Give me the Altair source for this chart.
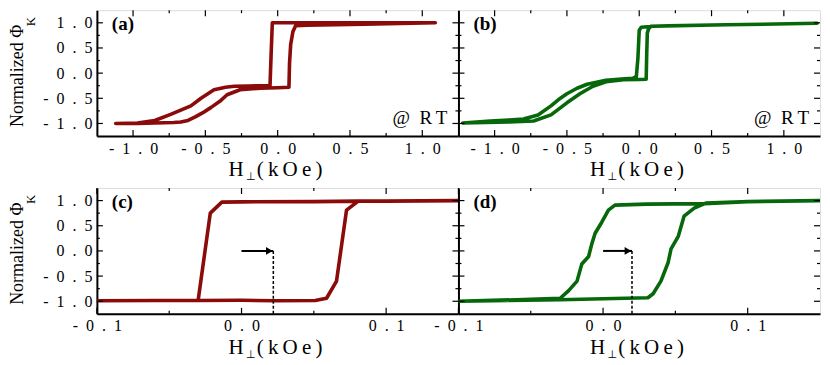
import altair as alt
import pandas as pd

# ---------------- data ----------------
# Panel (a): RT loop, red
a_desc_H = [1.09, 0.60, 0.15, 0.00, -0.037, -0.045, -0.053, -0.10, -0.20, -0.30, -0.36, -0.44, -0.53, -0.60, -0.74, -0.85, -0.97, -1.12]
a_desc_phi = [1.00, 1.00, 1.00, 1.00, 1.00, 0.40, -0.25, -0.25, -0.255, -0.26, -0.28, -0.33, -0.50, -0.65, -0.82, -0.94, -0.99, -1.00]
a_asc_H = [-1.12, -0.97, -0.85, -0.72, -0.67, -0.62, -0.57, -0.52, -0.46, -0.40, -0.35, -0.26, -0.12, 0.00, 0.078, 0.082, 0.09, 0.105, 0.124, 0.20, 0.60, 1.09]
a_asc_phi = [-1.00, -1.00, -0.99, -0.98, -0.97, -0.94, -0.87, -0.79, -0.68, -0.56, -0.43, -0.33, -0.30, -0.29, -0.28, 0.20, 0.57, 0.82, 0.94, 0.95, 0.97, 1.00]

# Panel (b): RT loop, green
b_desc_H = [1.23, 0.60, 0.10, 0.014, 0.000, -0.009, -0.02, -0.043, -0.10, -0.23, -0.36, -0.43, -0.50, -0.56, -0.61, -0.70, -0.80, -0.90, -1.03, -1.22]
b_desc_phi = [0.99, 0.96, 0.93, 0.91, 0.85, 0.30, -0.07, -0.10, -0.11, -0.14, -0.22, -0.30, -0.41, -0.53, -0.65, -0.83, -0.91, -0.93, -0.95, -0.99]
b_asc_H = [-1.22, -0.90, -0.73, -0.61, -0.50, -0.41, -0.32, -0.23, -0.11, 0.00, 0.048, 0.052, 0.056, 0.065, 0.08, 0.20, 0.60, 1.23]
b_asc_phi = [-0.99, -0.97, -0.95, -0.83, -0.59, -0.41, -0.26, -0.17, -0.13, -0.125, -0.12, 0.40, 0.80, 0.88, 0.93, 0.94, 0.96, 0.99]

# Panel (c): minor loop, red
c_desc_H = [0.15, 0.10, 0.0807, 0.05, 0.0, -0.0136, -0.0216, -0.030, -0.06, -0.10]
c_desc_phi = [1.00, 0.99, 0.99, 0.98, 0.975, 0.97, 0.75, -0.985, -0.985, -0.99]
c_asc_H = [-0.10, -0.06, -0.030, 0.0, 0.0236, 0.051, 0.0588, 0.0657, 0.0726, 0.0807, 0.10, 0.15]
c_asc_phi = [-0.99, -0.985, -0.985, -0.98, -0.99, -0.985, -0.94, -0.60, 0.81, 0.99, 0.99, 1.00]

# Panel (d): minor loop, green
d_desc_H = [0.15, 0.10, 0.070, 0.030, 0.0082, 0.0037, -0.0009, -0.0055, -0.0078, -0.010, -0.0147, -0.018, -0.0238, -0.0296, -0.06, -0.10]
d_desc_phi = [1.00, 0.98, 0.94, 0.93, 0.91, 0.81, 0.57, 0.35, 0.14, -0.11, -0.26, -0.60, -0.79, -0.94, -0.97, -1.00]
d_asc_H = [-0.10, -0.0296, 0.0, 0.031, 0.0346, 0.040, 0.045, 0.047, 0.052, 0.056, 0.063, 0.071, 0.10, 0.15]
d_asc_phi = [-1.00, -0.97, -0.95, -0.93, -0.85, -0.60, -0.23, 0.04, 0.29, 0.69, 0.85, 0.95, 0.98, 1.00]

# loop shift annotations (c), (d): arrow start, arrow end / dashed line position
c_shift = [0.0, 0.022]
d_shift = [0.0, 0.020]

# axes
wide_domain = [-1.25, 1.25]
narrow_domain = [-0.1, 0.15]
wide_labels = [-1.0, -0.5, 0.0, 0.5, 1.0]
narrow_labels = [-0.1, 0.0, 0.1]
wide_major = [-1.0, -0.5, 0.0, 0.5, 1.0]
wide_minor = [-0.75, -0.25, 0.25, 0.75]
narrow_major = [-0.1, 0.0, 0.1]
narrow_minor = [-0.05, 0.05]
y_labels = [-1.0, -0.5, 0.0, 0.5, 1.0]
y_major = [-1.0, -0.5, 0.0, 0.5, 1.0]
y_minor = [-0.75, -0.25, 0.25, 0.75]

RED = "#8b0a0a"
GREEN = "#07680b"
FONT = "Liberation Serif, Times New Roman, DejaVu Serif, serif"
W = 362
H = 126
MAJ = 6
MIN = 3
SP = "\u2002"
TH = "\u2009"
LABEL_EXPR = ("(datum.value < -1e-9 ? '-" + SP + "' : '') + "
              "join(split(format(abs(datum.value), '.1f'), ''), '" + SP + "')")


def one(text):
    return pd.DataFrame({"t": [text]})


def panel(dH, dphi, aH, aphi, color, xdom, xlab, xmaj, xmin, tag, show_y, rt, shift):
    hs = dH + aH
    ps = dphi + aphi
    curve = pd.DataFrame({"H": hs, "phi": ps, "i": list(range(len(hs)))})
    xs = alt.Scale(domain=xdom, nice=False, zero=False)
    ys = alt.Scale(domain=wide_domain, nice=False, zero=False)
    xaxis = alt.Axis(values=xlab, ticks=False, grid=False, title=None,
                     labelExpr=LABEL_EXPR, labelFont=FONT, labelFontSize=16,
                     labelColor="black", labelPadding=4, labelFlush=False,
                     labelOverlap=False, domainColor="black", domainWidth=2)
    yaxis = alt.Axis(values=y_labels, ticks=False, grid=False, title=None,
                     labels=show_y, labelExpr=LABEL_EXPR, labelFont=FONT,
                     labelFontSize=16, labelColor="black", labelPadding=5,
                     labelFlush=False, labelOverlap=False,
                     domainColor="black", domainWidth=2)

    def X(f):
        return alt.X(f, type="quantitative", scale=xs, axis=xaxis)

    def Y(f):
        return alt.Y(f, type="quantitative", scale=ys, axis=yaxis)

    layers = []
    layers.append(alt.Chart(curve).mark_line(color=color, strokeWidth=3.6, clip=True,
                                             strokeJoin="round", strokeCap="round")
                  .encode(x=X("H"), y=Y("phi"), order="i:Q"))

    # inward ticks on all four sides
    for vals, L in ((xmaj, MAJ), (xmin, MIN)):
        xt = pd.DataFrame({"v": vals})
        layers.append(alt.Chart(xt).mark_rule(color="black", strokeWidth=1.2)
                      .encode(x=X("v"), y=alt.value(H), y2=alt.value(H - L)))
        layers.append(alt.Chart(xt).mark_rule(color="black", strokeWidth=1.2)
                      .encode(x=X("v"), y=alt.value(0), y2=alt.value(L)))
    for vals, L in ((y_major, MAJ), (y_minor, MIN)):
        yt = pd.DataFrame({"v": vals})
        layers.append(alt.Chart(yt).mark_rule(color="black", strokeWidth=1.2)
                      .encode(y=Y("v"), x=alt.value(0), x2=alt.value(L)))
        layers.append(alt.Chart(yt).mark_rule(color="black", strokeWidth=1.2)
                      .encode(y=Y("v"), x=alt.value(W), x2=alt.value(W - L)))

    layers.append(alt.Chart(one(tag)).mark_text(font=FONT, fontSize=19, fontWeight="bold",
                                                align="left", baseline="middle", color="black")
                  .encode(x=alt.value(15), y=alt.value(14), text="t:N"))
    if rt:
        layers.append(alt.Chart(one("@" + SP + "R" + TH + "T")).mark_text(font=FONT, fontSize=19,
                                                                       align="right", baseline="middle",
                                                                       color="black")
                      .encode(x=alt.value(W - 11), y=alt.value(108), text="t:N"))
    if shift is not None:
        arr = pd.DataFrame({"x0": [shift[0]], "x1": [shift[1]], "y": [0.0], "yb": [wide_domain[0]]})
        layers.append(alt.Chart(arr).mark_rule(color="black", strokeWidth=2)
                      .encode(x=X("x0"), x2="x1", y=Y("y")))
        layers.append(alt.Chart(arr).mark_point(shape="triangle-right", filled=True, size=60,
                                                color="black", opacity=1, xOffset=-4)
                      .encode(x=X("x1"), y=Y("y")))
        layers.append(alt.Chart(arr).mark_rule(color="black", strokeWidth=1.5, strokeDash=[3, 2])
                      .encode(x=X("x1"), y=Y("y"), y2="yb"))
    if show_y:
        layers.append(alt.Chart(one("Normalized \u03a6")).mark_text(font=FONT, fontSize=18, angle=270,
                                                                  align="left", baseline="alphabetic",
                                                                  color="black")
                      .encode(x=alt.value(-74), y=alt.value(117), text="t:N"))
        layers.append(alt.Chart(one("K")).mark_text(font=FONT, fontSize=13, angle=270,
                                                   align="left", baseline="alphabetic", color="black")
                      .encode(x=alt.value(-62), y=alt.value(16), text="t:N"))
    # x title  H⊥(kOe)
    layers.append(alt.Chart(one("H")).mark_text(font=FONT, fontSize=21, align="right",
                                               baseline="alphabetic", color="black")
                  .encode(x=alt.value(W / 2 - 34), y=alt.value(H + 40), text="t:N"))
    layers.append(alt.Chart(one("\u22a5")).mark_text(font="DejaVu Sans", fontSize=11, align="center",
                                                    baseline="alphabetic", color="black")
                  .encode(x=alt.value(W / 2 - 27), y=alt.value(H + 44), text="t:N"))
    layers.append(alt.Chart(one("(" + TH + "k" + TH + "O" + TH + "e" + TH + ")"))
                  .mark_text(font=FONT, fontSize=21, align="left", baseline="alphabetic", color="black")
                  .encode(x=alt.value(W / 2 - 21), y=alt.value(H + 40), text="t:N"))
    return alt.layer(*layers).properties(width=W, height=H)


pa = panel(a_desc_H, a_desc_phi, a_asc_H, a_asc_phi, RED, wide_domain, wide_labels, wide_major, wide_minor, "(a)", True, True, None)
pb = panel(b_desc_H, b_desc_phi, b_asc_H, b_asc_phi, GREEN, wide_domain, wide_labels, wide_major, wide_minor, "(b)", False, True, None)
pc = panel(c_desc_H, c_desc_phi, c_asc_H, c_asc_phi, RED, narrow_domain, narrow_labels, narrow_major, narrow_minor, "(c)", True, False, c_shift)
pd_ = panel(d_desc_H, d_desc_phi, d_asc_H, d_asc_phi, GREEN, narrow_domain, narrow_labels, narrow_major, narrow_minor, "(d)", False, False, d_shift)

row1 = alt.hconcat(pa, pb, spacing=0, bounds="flush")
row2 = alt.hconcat(pc, pd_, spacing=0, bounds="flush")
chart = (alt.vconcat(row1, row2, spacing=3)
         .properties(padding=0)
         .configure_view(stroke="black", strokeWidth=1.5)
         .configure(background="white"))

chart.save("out.html", embed_options={"renderer": "svg", "actions": False})
